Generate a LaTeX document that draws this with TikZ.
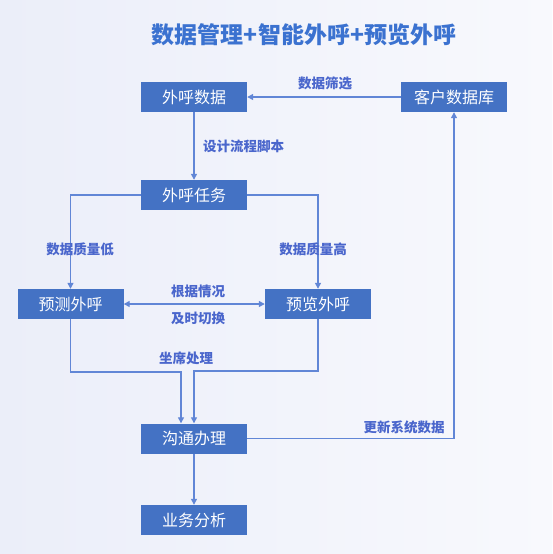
\documentclass[tikz,border=0pt]{standalone}
\usepackage{fontspec}
\setmainfont{Noto Sans CJK SC}
\usetikzlibrary{arrows.meta}
\definecolor{boxblue}{HTML}{4472C4}
\definecolor{lineblue}{HTML}{6186D6}
\definecolor{labcol}{HTML}{4A66CC}
\definecolor{titlecol}{HTML}{3B72D0}
\definecolor{bgL}{HTML}{EBEEF9}
\definecolor{bgR}{HTML}{F8F9FD}
\begin{document}
\begin{tikzpicture}[x=1pt,y=-1pt,
 box/.style={fill=boxblue, text=white, minimum width=106pt, minimum height=30pt, inner sep=0pt, font=\fontsize{16}{17}\selectfont},
 conn/.style={draw=lineblue, line width=1.3pt, -{Triangle[length=6pt,width=6pt]}},
 lab/.style={text=labcol, font=\bfseries\fontsize{13.5}{14}\selectfont, inner sep=0pt}]
\shade[left color=bgL, right color=bgR] (0,0) rectangle (552,554);
\useasboundingbox (0,0) rectangle (552,554);
\node[text=titlecol, font=\bfseries\fontsize{23}{25}\selectfont] (title) at (304,35) {数据管理+智能外呼+预览外呼};
\node[box] (whsj) at (194,97) {外呼数据};
\node[box] (khsjk) at (454,97) {客户数据库};
\node[box] (whrw) at (194,195) {外呼任务};
\node[box] (yc) at (70.5,304) {预测外呼};
\node[box] (yl) at (318,304) {预览外呼};
\node[box] (gt) at (194,438.5) {沟通办理};
\node[box] (ywfx) at (194,520) {业务分析};
\coordinate (c1) at (181,372);
\coordinate (c2) at (194,371);
\draw[conn] (khsjk) -- (whsj);
\draw[conn] (whsj) -- (whrw);
\draw[conn] (whrw.west) -| (yc.north);
\draw[conn] (whrw.east) -| (yl.north);
\draw[conn, {Triangle[length=6pt,width=6pt]}-{Triangle[length=6pt,width=6pt]}] (yc) -- (yl);
\draw[conn] (yc.south) |- (c1) -- (c1 |- gt.north);
\draw[conn] (yl.south) |- (c2) -- (gt.north);
\draw[conn] (gt.east) -| (khsjk.south);
\draw[conn] (gt) -- (ywfx);
\node[lab] (l1) at (325,83) {数据筛选};
\node[lab, anchor=west] (l2) at (203,146) {设计流程脚本};
\node[lab] (l3) at (80,249) {数据质量低};
\node[lab] (l4) at (313,249) {数据质量高};
\node[lab] (l5) at (198,291) {根据情况};
\node[lab] (l6) at (198,318) {及时切换};
\node[lab] (l7) at (186,358) {坐席处理};
\node[lab] (l8) at (404,427) {更新系统数据};
\end{tikzpicture}
\end{document}
